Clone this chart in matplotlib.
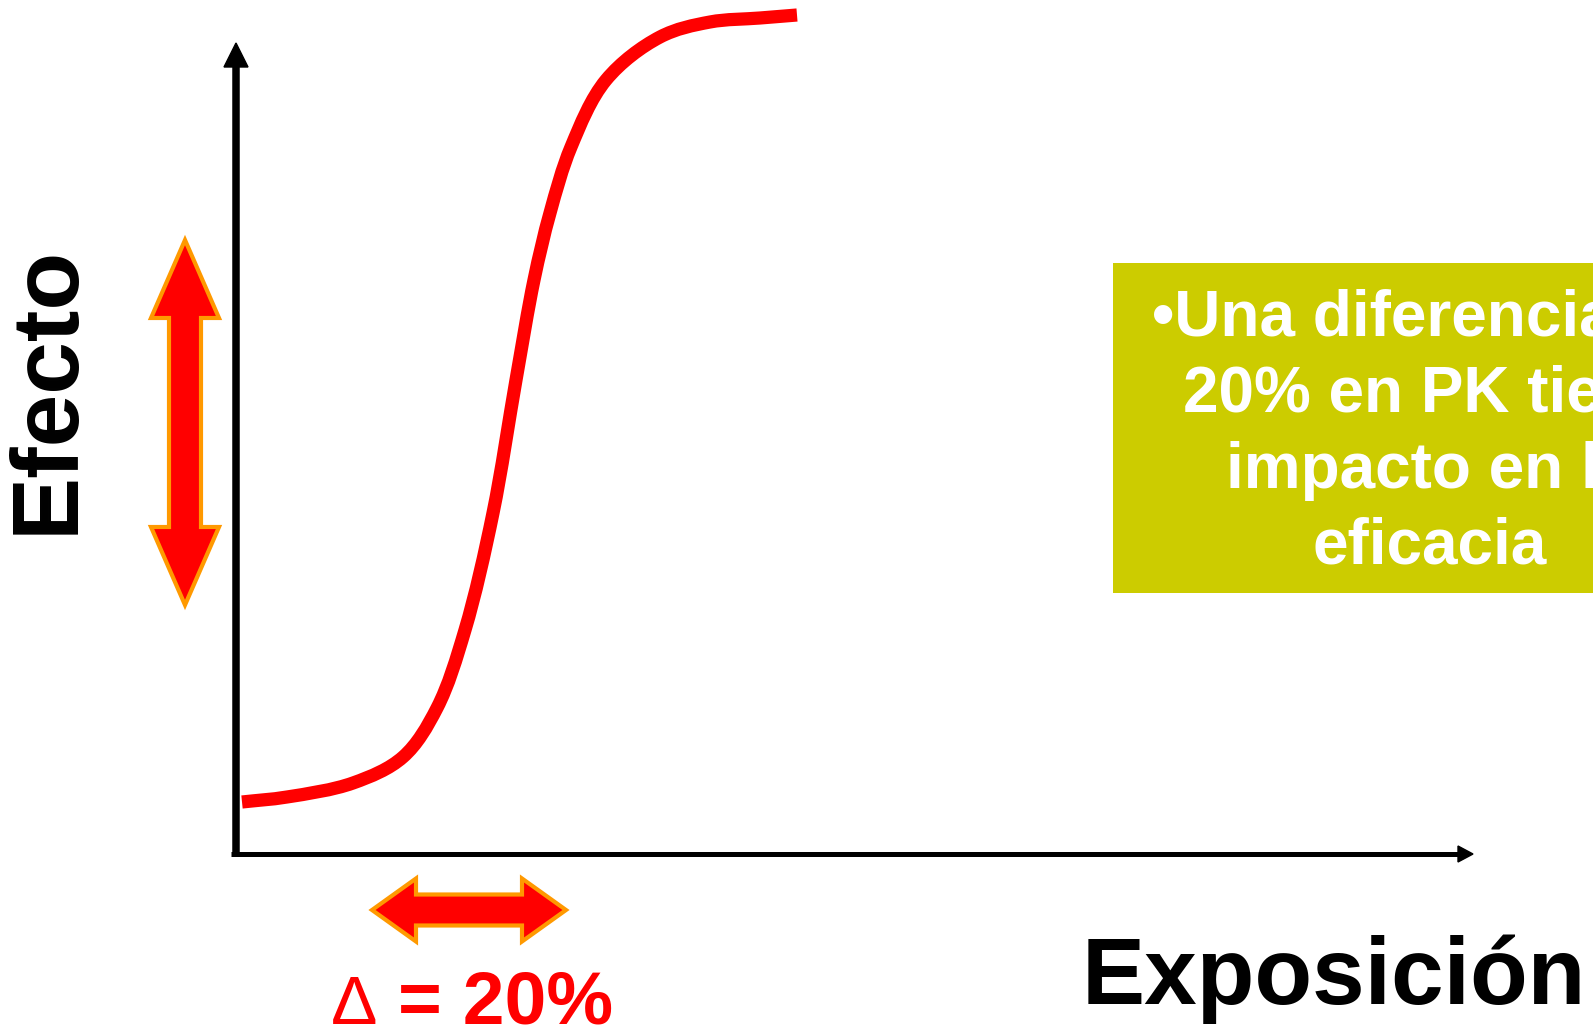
import numpy as np
import matplotlib
matplotlib.use("Agg")
import matplotlib.pyplot as plt
from matplotlib.patches import Polygon, Rectangle, PathPatch
from matplotlib.path import Path

plt.rcParams['font.family'] = ['Liberation Sans', 'DejaVu Sans']

# curva dosis-respuesta (exposicion vs efecto)
exposicion = [6, 51, 117, 167, 201, 229, 257, 280, 298, 314, 335, 370,
              424, 474, 524, 561]
efecto = [52, 57, 71, 97, 146, 224, 341, 474, 574, 641, 707, 774,
          817, 832, 836, 839]

lineas_caja = ["•Una diferencia de", "20% en PK tiene", "impacto en la", "eficacia"]

ROJO = '#FF0000'
NARANJA = '#FF9900'
OLIVA = '#CCCC00'


def flecha_doble(ax, x0, y0, x1, y1, ancho, cabeza_ancho, cabeza_largo):
    # flecha con dos puntas, de (x0,y0) a (x1,y1)
    p0 = np.array([x0, y0], float)
    p1 = np.array([x1, y1], float)
    d = (p1 - p0) / np.hypot(*(p1 - p0))
    n = np.array([-d[1], d[0]])
    a = p0 + d * cabeza_largo
    b = p1 - d * cabeza_largo
    pts = [p0,
           a + n * cabeza_ancho / 2, a + n * ancho / 2,
           b + n * ancho / 2, b + n * cabeza_ancho / 2,
           p1,
           b - n * cabeza_ancho / 2, b - n * ancho / 2,
           a - n * ancho / 2, a - n * cabeza_ancho / 2]
    ax.add_patch(Polygon(pts, closed=True, facecolor=ROJO, edgecolor=NARANJA,
                         linewidth=3, joinstyle='miter'))


def camino_suave(xs, ys, alfa=0.5):
    # catmull-rom centripeta convertida a bezier, pasa por todos los puntos
    p = np.column_stack([xs, ys]).astype(float)
    p = np.vstack([2 * p[0] - p[1], p, 2 * p[-1] - p[-2]])
    verts = [p[1]]
    codes = [Path.MOVETO]
    for i in range(1, len(p) - 2):
        p0, p1, p2, p3 = p[i - 1], p[i], p[i + 1], p[i + 2]
        d1 = np.hypot(*(p1 - p0)) ** alfa
        d2 = np.hypot(*(p2 - p1)) ** alfa
        d3 = np.hypot(*(p3 - p2)) ** alfa
        b1 = (d1**2 * p2 - d2**2 * p0 + (2 * d1**2 + 3 * d1 * d2 + d2**2) * p1) / (3 * d1 * (d1 + d2))
        b2 = (d3**2 * p1 - d2**2 * p3 + (2 * d3**2 + 3 * d3 * d2 + d2**2) * p2) / (3 * d3 * (d3 + d2))
        verts += [b1, b2, p2]
        codes += [Path.CURVE4] * 3
    return Path(verts, codes)


fig = plt.figure(figsize=(15.93, 10.27), dpi=100)
ax = fig.add_axes([0, 0, 1, 1])
ax.set_xlim(-236, 1593 - 236)
ax.set_ylim(854 - 1027, 854)
ax.axis('off')

# ejes con flecha
ax.plot([0, 0], [0, 790], color='black', lw=5.4, solid_capstyle='butt')
ax.fill([-12, 12, 0], [787, 787, 811], color='black')
ax.plot([-5, 1225], [0, 0], color='black', lw=3.6, solid_capstyle='butt')
ax.fill([1222, 1222, 1237], [-8, 8, 0], color='black')

ax.add_patch(PathPatch(camino_suave(exposicion, efecto), facecolor='none',
                       edgecolor=ROJO, lw=9.5, capstyle='butt'))

# flechas dobles
flecha_doble(ax, -51, 614, -51, 249, 32, 68, 78)
flecha_doble(ax, 136, -56, 330, -56, 31, 63, 44)

ax.text(-188, 465, "Efecto", rotation=90, ha='center', va='center',
        fontsize=68, fontweight='bold', color='black')
ax.text(846, -150, "Exposición", ha='left', va='baseline',
        fontsize=68, fontweight='bold', color='black')

ax.text(95, -170, "\u0394", ha='left', va='baseline', fontsize=50,
        color=ROJO)
ax.text(162, -170, "= 20%", ha='left', va='baseline', fontsize=54,
        fontweight='bold', color=ROJO)

ax.add_patch(Rectangle((877, 261), 700, 330, facecolor=OLIVA, edgecolor='none'))
for i, linea in enumerate(lineas_caja):
    ax.text(1194, 518 - 76 * i, linea, ha='center', va='baseline',
            fontsize=46, fontweight='bold', color='white')

fig.savefig('out.png', dpi=100)
